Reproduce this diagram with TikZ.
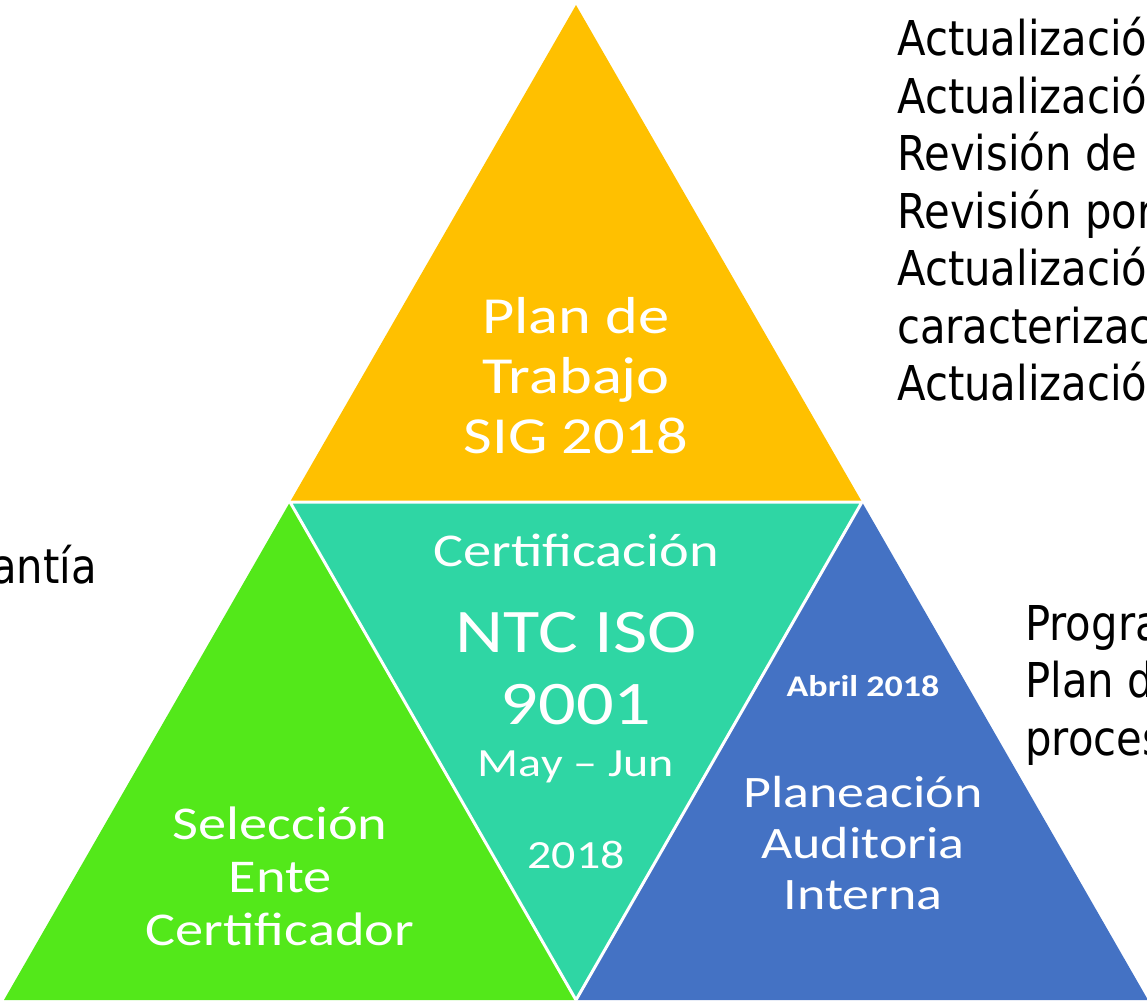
\documentclass[tikz,border=0pt]{standalone}
\usepackage{fontspec}
\setmainfont[FakeStretch=1.2]{Carlito}
\newfontfamily\sidefont[FakeStretch=0.87]{DejaVu Sans}

\definecolor{sigyellow}{HTML}{FFC000}
\definecolor{sigteal}{HTML}{2FD6A4}
\definecolor{siggreen}{HTML}{53E81A}
\definecolor{sigblue}{HTML}{4472C4}

\begin{document}
\begin{tikzpicture}[x=1pt, y=-1pt,
  piece/.style={draw=white, line width=3pt, line join=round},
  tritext/.style={text=white, align=center, inner sep=0pt},
  side/.style={font=\sidefont\fontsize{48}{57.5}\selectfont, align=left, inner sep=0pt}]
  \useasboundingbox (0,0) rectangle (1147,1004);
  \clip (0,0) rectangle (1147,1004);
  \coordinate (apex) at (576, 5);
  \coordinate (bl)   at (4, 1000);
  \coordinate (br)   at (1148, 1000);
  \coordinate (ml)   at (290, 502);
  \coordinate (mr)   at (862, 502);
  \coordinate (mb)   at (576, 1000);

  \fill[sigyellow] (apex) -- (ml) -- (mr) -- cycle;
  \fill[siggreen]  (ml) -- (bl) -- (mb) -- cycle;
  \fill[sigblue]   (mr) -- (mb) -- (br) -- cycle;
  \fill[sigteal]   (ml) -- (mr) -- (mb) -- cycle;
  \draw[piece] (ml) -- (mr) -- (mb) -- cycle;

  % texts inside the triangles
  \node[tritext, font=\fontsize{52}{60}\selectfont] (plan) at (576, 376) {Plan de\\Trabajo\\SIG 2018};
  \node[tritext, font=\fontsize{47}{52}\selectfont] (cert) at (576, 550) {Certificación};
  \node[tritext, font=\fontsize{62}{72}\selectfont] (iso) at (576, 669) {NTC ISO\\9001};
  \node[tritext, font=\fontsize{40}{92}\selectfont] (dates) at (576, 810) {May -- Jun\\2018};
  \node[tritext, font=\bfseries\fontsize{30}{34}\selectfont] (april) at (863, 686) {Abril 2018};
  \node[tritext, font=\fontsize{45}{51}\selectfont] (audit) at (863, 843) {Planeación\\Auditoria\\Interna};
  \node[tritext, font=\fontsize{47}{53}\selectfont] (select) at (280, 876) {Selección\\Ente\\Certificador};

  % texts beside the pyramid
  \node[side, anchor=north west] (tasks) at (897, 17) {Actualización\\Actualización\\Revisión de\\Revisión por\\Actualización\\caracterización\\Actualización};
  \node[side, anchor=north west] (audits) at (1025, 605) {Programa\\Plan de\\procesos};
  \node[side, anchor=north east] (garant) at (97, 545) {antía};
\end{tikzpicture}
\end{document}
